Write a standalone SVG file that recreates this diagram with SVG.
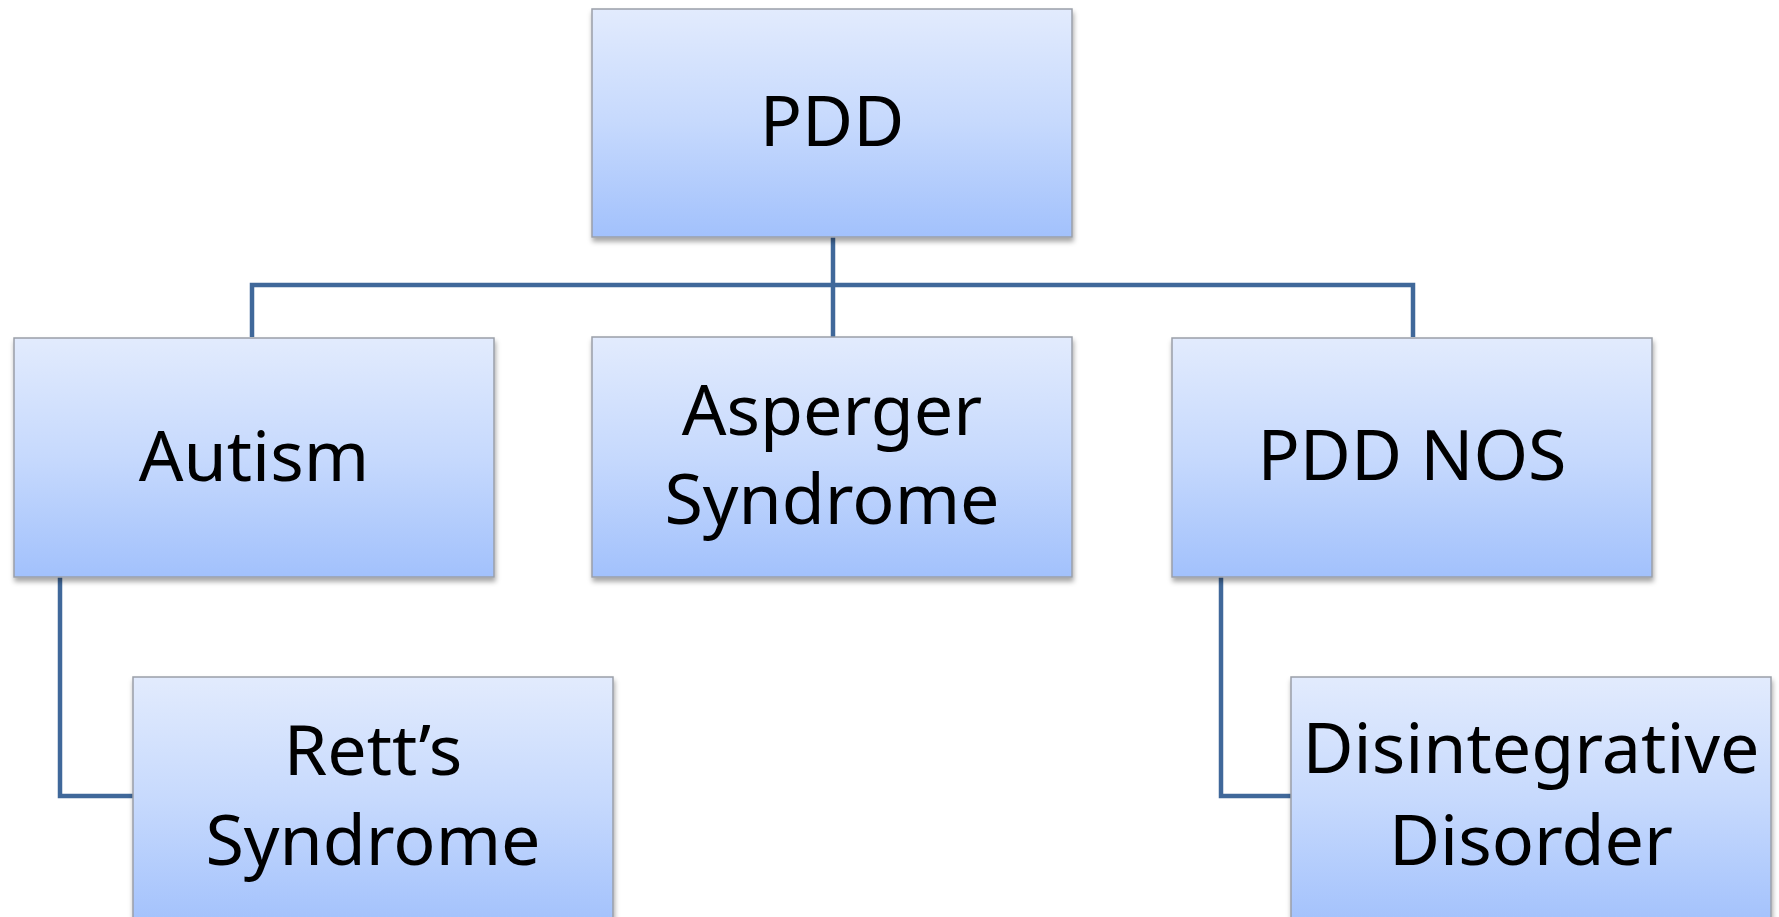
<svg xmlns="http://www.w3.org/2000/svg" width="1779" height="917" viewBox="0 0 1779 917">
<style>
.box{fill:url(#g);stroke:#9a9fa8;stroke-width:1.5;filter:url(#sh)}
.t{font-family:"Noto Sans","Open Sans",sans-serif;font-size:70px;fill:#000;text-anchor:middle}
.c{fill:none;stroke:#40689a;stroke-width:4.5;stroke-linejoin:miter}
</style>
<defs>
<linearGradient id="g" x1="0" y1="0" x2="0" y2="1">
<stop offset="0" stop-color="#e2ebfd"/>
<stop offset="0.5" stop-color="#c6d9fd"/>
<stop offset="1" stop-color="#a2c1fc"/>
</linearGradient>
<filter id="sh" x="-5%" y="-5%" width="115%" height="120%">
<feDropShadow dx="1" dy="4" stdDeviation="2.5" flood-color="#000" flood-opacity="0.35"/>
</filter>
</defs>
<g id="connectors">
<path class="c" d="M833 237 V337"/>
<path class="c" d="M252 337 V285 H1413 V337"/>
<path class="c" d="M60 577 V796 H133"/>
<path class="c" d="M1221 577 V796 H1291"/>
</g>
<g id="pdd">
<rect class="box" x="592" y="9" width="480" height="228"/>
<text class="t" x="832" y="146">PDD</text>
</g>
<g id="autism">
<rect class="box" x="14" y="338" width="480" height="239"/>
<text class="t" x="254" y="481">Autism</text>
</g>
<g id="asperger">
<rect class="box" x="592" y="337" width="480" height="240"/>
<text class="t" x="832" y="435">Asperger</text>
<text class="t" x="832" y="524">Syndrome</text>
</g>
<g id="pddnos">
<rect class="box" x="1172" y="338" width="480" height="239"/>
<text class="t" x="1412" y="480">PDD NOS</text>
</g>
<g id="retts">
<rect class="box" x="133" y="677" width="480" height="250"/>
<text class="t" x="373" y="775">Rett’s</text>
<text class="t" x="373" y="865">Syndrome</text>
</g>
<g id="disintegrative">
<rect class="box" x="1291" y="677" width="480" height="250"/>
<text class="t" x="1531" y="773">Disintegrative</text>
<text class="t" x="1531" y="865">Disorder</text>
</g>
</svg>
